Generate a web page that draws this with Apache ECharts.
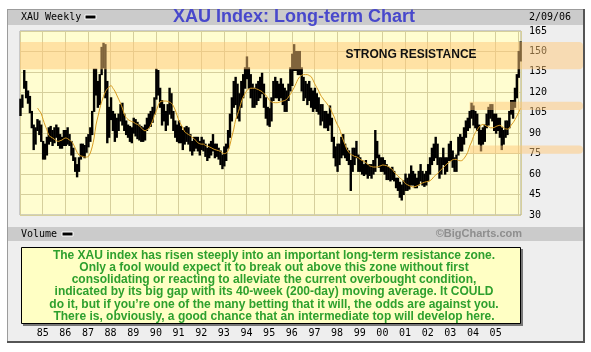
<!DOCTYPE html>
<html><head><meta charset="utf-8">
<script src="https://cdn.jsdelivr.net/npm/echarts@6/dist/echarts.min.js"></script>
<style>html,body{margin:0;padding:0;background:#fff}#c{width:591px;height:352px}</style>
</head><body><div id="c"></div>
<script>
// ---------- DATA ----------
const startYear = 1984;             // first month = Jan 1984, monthly bars
const yearLabels = ['85','86','87','88','89','90','91','92','93','94','95','96','97','98','99','00','01','02','03','04','05'];
const firstLabelYear = 1985;
const yMin = 30, yMax = 165, yStep = 15;

// monthly high of the weekly XAU bars (Jan 1984 .. Feb 2006)
const priceHigh = [
  115,118,136,128,121,117,106,96,94,100,99,96,
  84,82,87,94,95,92,94,96,94,89,87,92,
  92,94,89,84,79,72,67,72,82,82,81,87,
  89,94,106,137,137,128,133,153,156,155,128,109,
  116,106,104,101,104,111,112,104,99,96,95,94,
  101,100,98,96,95,94,96,101,104,106,109,116,
  137,136,123,114,111,106,111,123,119,106,99,96,
  99,95,92,94,95,94,89,84,87,87,87,84,
  87,85,82,79,82,84,89,82,82,79,77,74,
  80,82,92,104,116,128,131,126,119,128,133,138,
  146,138,133,126,123,126,128,131,134,126,116,109,
  108,116,128,131,128,126,130,126,123,121,126,138,
  148,155,150,150,150,138,131,128,126,128,123,121,
  123,119,116,111,111,106,106,104,110,101,87,80,
  82,82,87,89,82,79,77,70,79,79,84,74,
  72,70,67,70,67,67,67,70,92,84,74,72,
  72,70,67,65,64,65,62,57,57,54,52,55,
  60,57,60,66,62,60,57,62,67,62,60,62,
  67,72,79,82,87,82,72,72,79,72,72,82,
  84,77,72,74,87,89,87,94,99,101,106,112,
  110,106,104,96,92,94,96,104,109,111,111,104,
  104,101,101,94,92,99,99,106,114,114,123,133,
  150,157
];
// monthly low
const priceLow = [
  103,109,123,116,112,105,94,78,82,92,89,84,
  71,71,74,82,84,81,83,87,81,79,79,81,
  81,82,81,74,70,62,58,62,71,73,72,76,
  80,84,89,106,118,109,111,133,138,116,83,87,
  100,92,84,87,92,99,96,92,89,87,84,83,
  90,88,86,85,84,84,85,92,94,95,98,104,
  115,118,109,96,99,92,96,104,101,92,87,84,
  83,83,78,82,84,82,77,74,77,79,77,74,
  78,77,73,70,72,74,77,72,73,71,67,64,
  66,70,79,87,99,109,111,101,99,109,116,123,
  130,123,116,109,109,111,114,116,119,109,101,96,
  95,99,114,116,116,114,116,111,106,106,114,121,
  125,136,136,133,133,121,114,116,111,114,109,106,
  108,106,104,96,99,94,94,92,96,84,72,66,
  62,67,72,74,72,70,67,48,62,67,72,62,
  62,60,59,60,57,59,57,60,62,72,65,62,
  62,60,56,56,55,56,55,50,48,43,41,45,
  48,48,49,52,52,50,50,52,55,52,51,52,
  55,60,67,70,72,67,57,60,67,60,62,70,
  70,65,62,62,74,77,77,82,87,92,94,101,
  96,94,92,82,77,82,84,94,96,101,99,92,
  90,92,87,78,82,87,89,94,104,101,109,116,
  131,143
];
// 40-week moving average, monthly samples (null before it starts)
const ma40 = [
  null,null,null,null,null,null,null,null,null,108.5,106.5,104.5,
  100,96,92.5,88.5,87.4,86.5,85.5,84.5,84,84.5,85,86,
  86.5,86,85,84,82,79,76,74,73.3,73,72.5,72.5,
  73,75.5,80,86.5,96,102,108,113,117,120.5,122.5,124,
  125,123,121,118,115,112,108.5,104,101.5,100,99.2,98.5,
  98,97,96.5,95.5,94,92.5,91.8,92.5,93.5,96,99,103,
  106.5,110.5,113,113.6,113.6,113.6,113.3,112.8,112,110,107,103,
  99,96.5,94,91,90,89,88.3,87,86,84.5,83,82.3,
  82,82,81,80.6,80,79.4,78.6,78,77.6,77.2,76.6,75.5,
  75,75.5,77,81.5,87.5,93,100,103.8,108,112.8,116.5,119,
  121.5,122.5,123,123,123,122.5,122,121.2,120.5,119,118,116,
  114,113,112.5,112.4,112.4,112.7,113.2,113.6,114,114.8,116.5,118.5,
  121,123.5,126.5,129.5,131.5,132.5,133,133,133,132.3,131.5,129,
  126,123.5,121,118,116,114,112.4,110.5,108.7,105.5,102.6,99,
  96,93.5,89,85,81.5,78,76,74.5,73.8,73,72.7,72,
  70.8,70,69.4,68.4,67.3,66,65.6,65.2,65.2,65.2,65.7,66.2,
  66.7,66.5,66.2,65.5,64.5,63.5,61.5,60,58.5,57.4,56,54.8,
  53,52.2,51.5,51,50.5,50.8,51.3,52,53,53.5,54,54.4,
  54.7,55.2,56.3,58,59.3,60.5,62,63.5,64.7,66.2,67.5,68.6,
  69.6,70.5,70.8,70.8,70,69.8,70,71.5,73.5,76,80.6,83.5,
  87.5,90.5,92.5,94.5,95.8,96.5,96,95.2,94.8,94,94,94.2,
  95,95.5,95.8,95,94,93.2,93,93.7,96,97.7,100,102.6,
  105.5,108.5
];
// resistance zones: [start (decimal year), low, high]
const zoneStart = [1984, 2003.85, 2003.85];
const zoneLow   = [137, 107, 75];
const zoneHigh  = [157, 113, 81];

const titleText = 'XAU Index: Long-term Chart';
const dateText = '2/09/06';
const zoneLabel = 'STRONG RESISTANCE';
const noteLines = [
  'The XAU index has risen steeply into an important long-term resistance zone.',
  'Only a fool would expect it to break out above this zone without first',
  'consolidating or reacting to alleviate the current overbought condition,',
  'indicated by its big gap with its 40-week (200-day) moving average. It COULD',
  'do it, but if you\u2019re one of the many betting that it will, the odds are against you.',
  'There is, obviously, a good chance that an intermediate top will develop here.'
];

// ---------- BUILD ----------
const monthX = i => startYear + (i + 0.25) / 12;
const bars = priceHigh.map((h, i) => [monthX(i), priceLow[i], h]);
const maData = ma40.map((v, i) => v == null ? null : [monthX(i), v]).filter(Boolean);
const zones = zoneStart.map((s, i) => [s, zoneLow[i], zoneHigh[i]]);

const SANS = 'Liberation Sans, Arial, sans-serif';
const MONO = 'DejaVu Sans Mono, monospace';
const chart = echarts.init(document.getElementById('c'), null, {renderer: 'canvas', width: 591, height: 352});

chart.setOption({
  animation: false,
  grid: {left: 20, right: 70, top: 31, bottom: 137, show: true,
         backgroundColor: '#fffdd0', borderColor: '#a4a4a4', borderWidth: 1},
  xAxis: {
    type: 'value', min: startYear, max: 2006.12, interval: 1,
    axisLine: {show: false}, axisTick: {show: false},
    splitLine: {show: true, lineStyle: {color: '#d6cf9c', width: 1}},
    axisLabel: {
      margin: 113, fontFamily: MONO, fontSize: 10, color: '#000',
      formatter: v => {
        const r = Math.round(v);
        if (Math.abs(v - r) > 1e-6) return '';
        const k = r - firstLabelYear;
        return (k >= 0 && k < yearLabels.length) ? yearLabels[k] : '';
      }
    }
  },
  yAxis: {
    type: 'value', position: 'right', min: yMin, max: yMax, interval: yStep,
    axisLine: {show: false}, axisTick: {show: false},
    splitLine: {show: true, lineStyle: {color: '#d6cf9c', width: 1}},
    axisLabel: {margin: 8, fontFamily: MONO, fontSize: 10, color: '#000'}
  },
  series: [
    {
      type: 'custom', name: 'XAU', z: 2, data: bars, clip: false,
      encode: {x: 0, y: [1, 2]},
      renderItem: (params, api) => {
        const p1 = api.coord([api.value(0), api.value(1)]);
        const p2 = api.coord([api.value(0), api.value(2)]);
        return {type: 'line', shape: {x1: p1[0], y1: p1[1] + 0.5, x2: p2[0], y2: p2[1] - 0.5},
                style: {stroke: '#000', lineWidth: 2.4}};
      }
    },
    {
      type: 'line', name: 'MA40', z: 3, data: maData, symbol: 'none', smooth: 0.3,
      lineStyle: {color: '#d89c22', width: 1}
    },
    {
      type: 'custom', name: 'zones', z: 5, data: zones, clip: false, silent: true,
      encode: {x: 0, y: [1, 2]},
      renderItem: (params, api) => {
        const cs = params.coordSys;
        const top = api.coord([api.value(0), api.value(2)]);
        const bot = api.coord([api.value(0), api.value(1)]);
        const right = cs.x + cs.width + 62;
        return {type: 'rect',
                shape: {x: top[0], y: top[1], width: right - top[0], height: bot[1] - top[1], r: [0, 4, 4, 0]},
                style: {fill: 'rgba(255,200,120,0.5)'}};
      }
    }
  ],
  graphic: {elements: [
    {type: 'rect', z: -20, shape: {x: 7, y: 9, width: 578, height: 334}, style: {fill: '#eeeeee'}},
    {type: 'line', z: -19, shape: {x1: 7, y1: 9.5, x2: 585, y2: 9.5}, style: {stroke: '#9c9c9c'}},
    {type: 'line', z: -19, shape: {x1: 7.5, y1: 9, x2: 7.5, y2: 343}, style: {stroke: '#9c9c9c'}},
    {type: 'rect', z: -19, shape: {x: 583, y: 9, width: 2, height: 334}, style: {fill: '#555555'}},
    {type: 'rect', z: -19, shape: {x: 7, y: 341, width: 578, height: 2}, style: {fill: '#555555'}},
    {type: 'rect', z: -18, shape: {x: 8, y: 10, width: 575, height: 15}, style: {fill: '#cbcbcb'}},
    {type: 'rect', z: -18, shape: {x: 8, y: 227, width: 575, height: 14}, style: {fill: '#cbcbcb'}},
    {type: 'text', z: 10, x: 21, y: 17.5, style: {text: 'XAU Weekly', font: '10px ' + MONO, fill: '#000', verticalAlign: 'middle'}},
    {type: 'rect', z: 10, shape: {x: 85, y: 15, width: 11, height: 4}, style: {fill: '#000', stroke: '#fff', lineWidth: 1}},
    {type: 'text', z: 10, x: 173, y: 17.5, style: {text: titleText, font: 'bold 18px ' + SANS, fill: '#4848cc', verticalAlign: 'middle'}},
    {type: 'text', z: 10, x: 529, y: 17.5, style: {text: dateText, font: '10px ' + MONO, fill: '#000', verticalAlign: 'middle'}},
    {type: 'text', z: 10, x: 411, y: 55, style: {text: zoneLabel, font: 'bold 12px ' + SANS, fill: '#111', align: 'center', verticalAlign: 'middle'}},
    {type: 'text', z: 10, x: 21, y: 234, style: {text: 'Volume', font: '10px ' + MONO, fill: '#000', verticalAlign: 'middle'}},
    {type: 'rect', z: 10, shape: {x: 62, y: 232, width: 11, height: 4}, style: {fill: '#000', stroke: '#fff', lineWidth: 1}},
    {type: 'text', z: 10, x: 522, y: 234, style: {text: '\u00A9BigCharts.com', font: 'bold 11px ' + SANS, fill: '#8e8e8e', align: 'right', verticalAlign: 'middle'}},
    {type: 'rect', z: 10, shape: {x: 23, y: 249, width: 500, height: 77}, style: {fill: '#777777'}},
    {type: 'rect', z: 11, shape: {x: 21.5, y: 247.5, width: 499, height: 76}, style: {fill: '#ffffc4', stroke: '#000', lineWidth: 1}},
    {type: 'text', z: 12, x: 274, y: 286, style: {text: noteLines.join('\n'), font: 'bold 12px ' + SANS, fill: '#2ea02e',
      align: 'center', verticalAlign: 'middle', lineHeight: 12.3}}
  ]}
});
</script></body></html>
